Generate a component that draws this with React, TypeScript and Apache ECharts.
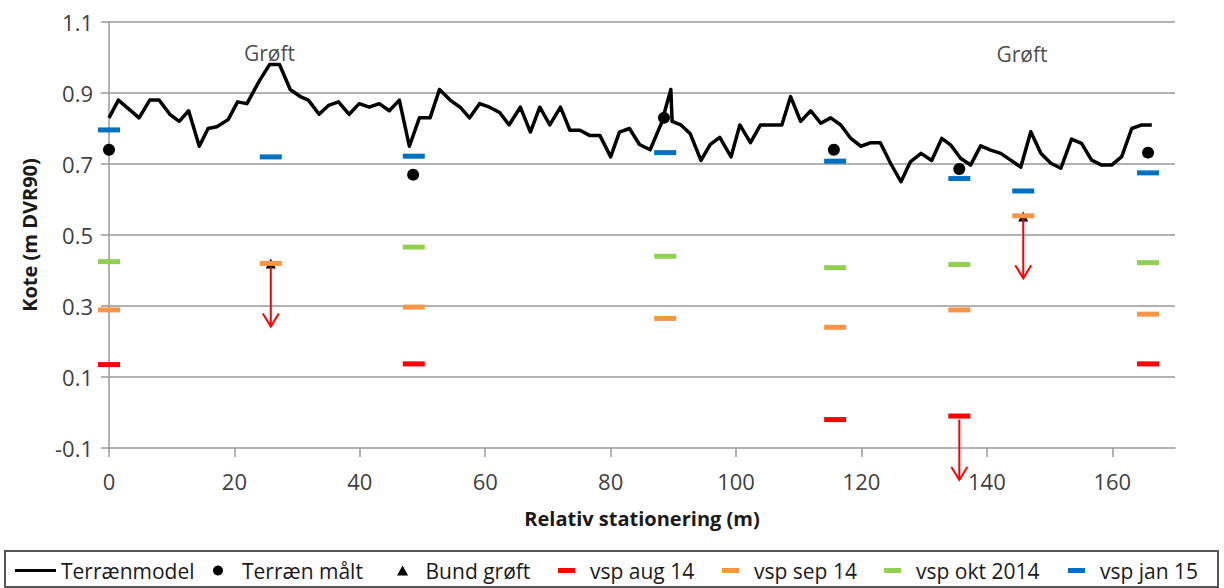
import React, { useEffect, useRef } from 'react';
import * as echarts from 'echarts';

// Terrain model (station m, level m DVR90)
const terrainX = [0.0, 1.5, 4.8, 6.5, 8.0, 9.7, 11.2, 12.7, 14.4, 15.8, 17.2, 19.0, 20.5, 22.0, 24.0, 25.6, 27.2, 28.9, 30.5, 31.8, 33.5, 35.0, 36.6, 38.3, 39.9, 41.5, 43.1, 44.7, 46.3, 47.9, 49.5, 51.2, 52.7, 54.4, 56.0, 57.5, 59.1, 60.7, 62.3, 63.8, 65.6, 67.2, 68.7, 70.3, 72.0, 73.5, 75.1, 76.7, 78.3, 80.0, 81.4, 83.0, 84.6, 86.3, 88.1, 89.6, 89.8, 91.2, 92.7, 94.4, 95.9, 97.4, 99.2, 100.6, 102.3, 103.9, 105.7, 107.3, 108.7, 110.3, 111.9, 113.5, 115.1, 116.7, 118.3, 119.9, 121.5, 123.0, 124.7, 126.3, 127.8, 129.5, 131.2, 132.8, 134.2, 135.8, 137.4, 139.0, 140.6, 142.2, 143.8, 145.4, 147.0, 148.6, 150.2, 151.8, 153.5, 155.1, 156.7, 158.3, 159.9, 161.5, 163.1, 164.7, 166.3];
const terrainY = [0.83, 0.88, 0.83, 0.88, 0.88, 0.84, 0.82, 0.85, 0.75, 0.80, 0.805, 0.825, 0.875, 0.87, 0.935, 0.98, 0.98, 0.91, 0.89, 0.88, 0.84, 0.865, 0.875, 0.84, 0.87, 0.86, 0.87, 0.85, 0.88, 0.75, 0.83, 0.83, 0.91, 0.88, 0.86, 0.83, 0.87, 0.86, 0.845, 0.81, 0.86, 0.79, 0.86, 0.81, 0.86, 0.795, 0.795, 0.78, 0.78, 0.72, 0.79, 0.80, 0.755, 0.74, 0.815, 0.91, 0.82, 0.81, 0.785, 0.71, 0.755, 0.775, 0.72, 0.81, 0.76, 0.81, 0.81, 0.81, 0.89, 0.82, 0.85, 0.815, 0.83, 0.81, 0.772, 0.75, 0.76, 0.76, 0.70, 0.65, 0.706, 0.73, 0.71, 0.772, 0.754, 0.716, 0.697, 0.751, 0.739, 0.73, 0.711, 0.691, 0.791, 0.73, 0.702, 0.688, 0.77, 0.758, 0.711, 0.697, 0.697, 0.721, 0.80, 0.81, 0.81];

const maaltX = [0, 48.5, 88.5, 115.6, 135.6, 165.7];
const maaltY = [0.74, 0.67, 0.83, 0.74, 0.686, 0.732];

const bundX = [25.8, 145.8];
const bundY = [0.42, 0.552];

const augX = [0, 48.6, 115.8, 135.6, 165.7];
const augY = [0.135, 0.137, -0.02, -0.01, 0.137];

const sepX = [0, 25.8, 48.6, 88.7, 115.8, 135.6, 145.8, 165.7];
const sepY = [0.289, 0.42, 0.297, 0.265, 0.24, 0.289, 0.554, 0.277];

const oktX = [0, 48.6, 88.7, 115.8, 135.6, 165.7];
const oktY = [0.425, 0.466, 0.44, 0.408, 0.417, 0.422];

const janX = [0, 25.8, 48.6, 88.7, 115.8, 135.6, 145.8, 165.7];
const janY = [0.796, 0.72, 0.722, 0.732, 0.708, 0.659, 0.624, 0.675];

// Arrows (station, from level, to level)
const arrowX = [25.8, 135.6, 145.8];
const arrowFrom = [0.41, -0.02, 0.545];
const arrowTo = [0.242, -0.19, 0.378];

// Annotations
const noteX = [25.6, 145.6];
const noteY = [1.013, 1.011];
const noteText = ['Grøft', 'Grøft'];

const xTicks = [0, 20, 40, 60, 80, 100, 120, 140, 160];
const yTicks = [-0.1, 0.1, 0.3, 0.5, 0.7, 0.9, 1.1];
const xMin = 0;
const xMax = 170;

const FONT = 'Open Sans';
const GRID_COLOR = '#999999';
const zip = (xs: number[], ys: number[]) => xs.map((x, i) => [x, ys[i]]);

export default function App() {
  const ref = useRef<HTMLDivElement>(null);
  useEffect(() => {
    if (!ref.current) return;
    const chart = echarts.init(ref.current, undefined, { renderer: 'svg' });
    const dashPath = 'path://M0,0H17V5H0Z';
    const legendBase = {
      top: 560,
      padding: 0,
      selectedMode: false,
      textStyle: { fontSize: 21, color: '#1a1a1a', fontFamily: FONT },
    };
    const dash = (name: string, color: string, data: number[][]) => ({
      name,
      type: 'scatter',
      symbol: 'rect',
      symbolSize: [22, 5],
      itemStyle: { color, opacity: 1 },
      data,
      z: 3,
    });
    chart.setOption({
      animation: false,
      textStyle: { fontFamily: FONT },
      grid: { left: 109, right: 49, top: 22, bottom: 140 },
      xAxis: {
        type: 'value',
        min: xMin,
        max: xMax,
        name: 'Relativ stationering (m)',
        nameLocation: 'middle',
        nameGap: 60,
        nameTextStyle: { fontSize: 20, fontWeight: 'bold', color: '#1a1a1a', fontFamily: FONT },
        axisLine: { show: true, onZero: false, lineStyle: { color: GRID_COLOR, width: 1.5 } },
        axisTick: { show: true, length: 9, lineStyle: { color: GRID_COLOR, width: 1.5 }, customValues: xTicks },
        axisLabel: { fontSize: 22, color: '#404040', margin: 22, customValues: xTicks, fontFamily: FONT },
        splitLine: { show: false },
      },
      yAxis: {
        type: 'value',
        min: -0.1,
        max: 1.1,
        name: 'Kote (m DVR90)',
        nameLocation: 'middle',
        nameRotate: 90,
        nameGap: 70,
        nameTextStyle: { fontSize: 20, fontWeight: 'bold', color: '#1a1a1a', fontFamily: FONT },
        axisLine: { show: true, onZero: false, lineStyle: { color: GRID_COLOR, width: 1.5 } },
        axisTick: { show: true, length: 8, lineStyle: { color: GRID_COLOR, width: 1.5 }, customValues: yTicks },
        axisLabel: {
          fontSize: 22,
          color: '#404040',
          margin: 16,
          customValues: yTicks,
          fontFamily: FONT,
          formatter: (v: number) => v.toFixed(1),
        },
        splitLine: { show: false },
      },
      legend: [
        { ...legendBase, left: 15, itemWidth: 41, itemHeight: 3, data: [{ name: 'Terrænmodel', icon: 'rect' }] },
        { ...legendBase, left: 213, itemWidth: 38, itemHeight: 10, data: [{ name: 'Terræn målt', icon: 'circle' }] },
        { ...legendBase, left: 397, itemWidth: 36, itemHeight: 10, data: [{ name: 'Bund grøft', icon: 'path://M5,0L10,9L0,9Z' }] },
        { ...legendBase, left: 558, itemWidth: 37, itemHeight: 5, data: [{ name: 'vsp aug 14', icon: dashPath }] },
        { ...legendBase, left: 722, itemWidth: 37, itemHeight: 5, data: [{ name: 'vsp sep 14', icon: dashPath }] },
        { ...legendBase, left: 884, itemWidth: 37, itemHeight: 5, data: [{ name: 'vsp okt 2014', icon: dashPath }] },
        { ...legendBase, left: 1068, itemWidth: 37, itemHeight: 5, data: [{ name: 'vsp jan 15', icon: dashPath }] },
      ],
      graphic: [
        {
          type: 'rect',
          shape: { x: 5, y: 551, width: 1213, height: 36 },
          style: { fill: 'none', stroke: '#555555', lineWidth: 2 },
          silent: true,
        },
      ],
      series: [
        {
          name: 'gridlines',
          type: 'custom',
          silent: true,
          z: 0,
          encode: { x: 0, y: 1 },
          data: yTicks.slice(1).map((v) => [xMin, v]),
          renderItem: (params: any, api: any) => {
            const a = api.coord([xMin, api.value(1)]);
            const b = api.coord([xMax, api.value(1)]);
            return {
              type: 'line',
              shape: { x1: a[0], y1: a[1], x2: b[0], y2: b[1] },
              style: { stroke: GRID_COLOR, lineWidth: 1.5 },
            };
          },
        },
        {
          name: 'Terrænmodel',
          type: 'line',
          data: zip(terrainX, terrainY),
          showSymbol: false,
          symbol: 'none',
          color: '#000000',
          lineStyle: { color: '#000000', width: 3.5, join: 'round' },
          z: 2,
        },
        {
          name: 'Terræn målt',
          type: 'scatter',
          symbol: 'circle',
          symbolSize: 12,
          itemStyle: { color: '#000000', opacity: 1 },
          data: zip(maaltX, maaltY),
          z: 3,
        },
        {
          name: 'Bund grøft',
          type: 'scatter',
          symbol: 'triangle',
          symbolSize: 10,
          itemStyle: { color: '#000000', opacity: 1 },
          data: zip(bundX, bundY),
          z: 3,
        },
        dash('vsp aug 14', '#ff0000', zip(augX, augY)),
        dash('vsp sep 14', '#f79646', zip(sepX, sepY)),
        dash('vsp okt 2014', '#92d050', zip(oktX, oktY)),
        dash('vsp jan 15', '#0070c0', zip(janX, janY)),
        {
          name: 'arrows',
          type: 'custom',
          clip: false,
          z: 4,
          encode: { x: 0, y: [1, 2] },
          data: arrowX.map((x, i) => [x, arrowFrom[i], arrowTo[i]]),
          renderItem: (params: any, api: any) => {
            const p1 = api.coord([api.value(0), api.value(1)]);
            const p2 = api.coord([api.value(0), api.value(2)]);
            return {
              type: 'group',
              children: [
                {
                  type: 'line',
                  shape: { x1: p1[0], y1: p1[1], x2: p2[0], y2: p2[1] },
                  style: { stroke: '#ff0000', lineWidth: 2 },
                },
                {
                  type: 'polyline',
                  shape: { points: [[p2[0] - 8, p2[1] - 13], [p2[0], p2[1]], [p2[0] + 8, p2[1] - 13]] },
                  style: { stroke: '#ff0000', lineWidth: 2, fill: 'none' },
                },
              ],
            };
          },
        },
        {
          name: 'notes',
          type: 'scatter',
          symbolSize: 0,
          silent: true,
          data: noteX.map((x, i) => ({ value: [x, noteY[i]], name: noteText[i] })),
          label: {
            show: true,
            position: 'inside',
            formatter: '{b}',
            fontSize: 21,
            color: '#1a1a1a',
            fontFamily: FONT,
          },
          z: 5,
        },
      ],
    });
    return () => chart.dispose();
  }, []);
  return <div ref={ref} style={{ position: 'absolute', left: 0, top: 0, width: 1224, height: 588 }} />;
}
